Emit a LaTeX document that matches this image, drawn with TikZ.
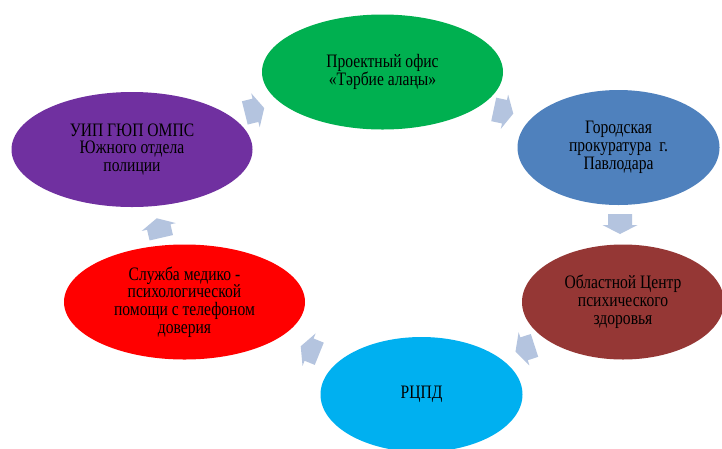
\documentclass[tikz,border=0pt]{standalone}
\usepackage{fontspec}
\setmainfont{Liberation Serif}
\newfontfamily\squishfont[FakeStretch=0.82]{Liberation Serif}
\newcommand\bubblefont{\squishfont\fontsize{19}{17.8}\selectfont\setlength{\lineskiplimit}{-20pt}}
\usetikzlibrary{shapes.geometric}
\definecolor{cgreen}{HTML}{00B050}
\definecolor{cblue}{HTML}{4F81BD}
\definecolor{cdarkred}{HTML}{953735}
\definecolor{ccyan}{HTML}{00B0F0}
\definecolor{cred}{HTML}{FF0000}
\definecolor{cpurple}{HTML}{7030A0}
\definecolor{carrow}{HTML}{B4C4DF}
\begin{document}
\begin{tikzpicture}[x=1pt,y=-1pt,
  bubble/.style={ellipse, inner sep=0pt, align=center, text=black,
    font=\bubblefont},
  wide/.style={minimum width=241pt, minimum height=115pt},
  narrow/.style={minimum width=202pt, minimum height=115pt},
  blockarrow/.pic={\fill[carrow] (-10,-12) -- (1,-12) -- (1,-17.5) -- (10,0)
      -- (1,17.5) -- (1,12) -- (-10,12) -- cycle;}]
\clip (0,0) rectangle (722,448);
\useasboundingbox (0,0) rectangle (722,448);
\fill[white] (0,0) rectangle (722,448);

\node[bubble, wide, fill=cgreen] (office) at (382.5,72) {Проектный офис\\«Тәрбие алаңы»};
\node[bubble, narrow, fill=cblue] (prok) at (618.5,147.5) {Городская\\прокуратура\ \ г.\\Павлодара};
\node[bubble, narrow, fill=cdarkred] (center) at (623,302) {Областной Центр\\психического\\здоровья};
\node[bubble, narrow, fill=ccyan] (rcpd) at (421.5,394.5) {РЦПД};
\node[bubble, wide, fill=cred] (service) at (184.5,302) {Служба медико -\\психологической\\помощи с телефоном\\доверия};
\node[bubble, wide, fill=cpurple] (police) at (132,149.5) {УИП ГЮП ОМПС\\Южного отдела\\полиции};

\pic[rotate=14] at (254.5,110.5) {blockarrow};
\pic[rotate=-12] at (503.5,111.5) {blockarrow};
\pic[rotate=-90] at (620,224) {blockarrow};
\pic[rotate=198] at (525,348.5) {blockarrow};
\pic[rotate=158] at (310,350) {blockarrow};
\pic[rotate=103] at (159,228) {blockarrow};
\end{tikzpicture}
\end{document}
